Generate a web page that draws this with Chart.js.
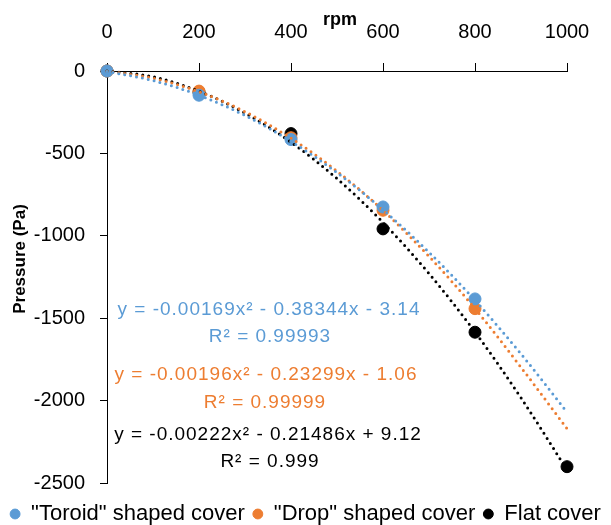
<!DOCTYPE html>
<html>
<head>
<meta charset="utf-8">
<script src="https://cdn.jsdelivr.net/npm/chart.js@4.4.0/dist/chart.umd.min.js"></script>
<style>
  body { margin: 0; background: #fff; }
  canvas { display: block; }
</style>
</head>
<body>
<canvas id="myChart" width="611" height="525"></canvas>
<script>
// measured points
const rpm = [0, 200, 400, 600, 800];
const rpmFlat = [0, 200, 400, 600, 800, 1000];
const toroid = [0, -147, -416, -825, -1383];
const drop = [0, -122, -405, -845, -1442];
const flat = [0, -128, -380, -958, -1585, -2401];

// trend lines every 100 rpm
const trendRpm = [0, 100, 200, 300, 400, 500, 600, 700, 800, 900, 1000];
const toroidTrend = [-3, -58, -147, -270, -427, -617, -842, -1100, -1391, -1717, -2070];
const dropTrend = [-1, -44, -126, -247, -408, -608, -846, -1125, -1442, -1798, -2170];
const flatTrend = [0, -35, -123, -255, -432, -653, -919, -1229, -1584, -1983, -2420];

const xTicks = [0, 200, 400, 600, 800, 1000];
const yTicks = [0, -500, -1000, -1500, -2000, -2500];

const equations = [
    ['y = -0.00169x² - 0.38344x - 3.14', 'R² = 0.99993', '#5b9bd5'],
    ['y = -0.00196x² - 0.23299x - 1.06', 'R² = 0.99999', '#ed7d31'],
    ['y = -0.00222x² - 0.21486x + 9.12', 'R² = 0.999', '#000000']
];

const font = 'Liberation Sans';
const blue = '#5b9bd5', orange = '#ed7d31', black = '#000000';

function pts(xs, ys) {
    return xs.map((x, i) => ({ x: x, y: ys[i] }));
}
function trend(ys, color) {
    return {
        type: 'line',
        label: 'trend',
        data: pts(trendRpm, ys),
        borderColor: color,
        borderWidth: 3,
        borderDash: [0, 6],
        borderCapStyle: 'round',
        pointRadius: 0,
        cubicInterpolationMode: 'monotone',
        fill: false,
        clip: false
    };
}
function marks(label, xs, ys, color) {
    return {
        type: 'scatter',
        label: label,
        data: pts(xs, ys),
        backgroundColor: color,
        borderColor: color,
        pointRadius: 6,
        pointHoverRadius: 6,
        clip: false
    };
}

// equation labels, axis titles
const textPlugin = {
    id: 'texts',
    afterDraw(chart) {
        const ctx = chart.ctx;
        ctx.save();
        ctx.textAlign = 'center';
        ctx.textBaseline = 'middle';
        ctx.font = '19px "' + font + '"';
        ctx.letterSpacing = '1px';
        const rows = [[269, 310, 270, 337], [266, 375, 265, 403], [268, 435, 270, 462]];
        equations.forEach((e, i) => {
            ctx.fillStyle = e[2];
            ctx.fillText(e[0], rows[i][0], rows[i][1]);
            ctx.fillText(e[1], rows[i][2], rows[i][3]);
        });
        ctx.letterSpacing = '0px';
        ctx.fillStyle = '#000';
        ctx.font = 'bold 18px "' + font + '"';
        ctx.fillText('rpm', 340, 20);
        ctx.translate(20, 259);
        ctx.rotate(-Math.PI / 2);
        ctx.font = 'bold 17px "' + font + '"';
        ctx.fillText('Pressure (Pa)', 0, 0);
        ctx.restore();
    }
};

new Chart(document.getElementById('myChart'), {
    type: 'scatter',
    data: {
        datasets: [
            trend(toroidTrend, blue),
            trend(dropTrend, orange),
            trend(flatTrend, black),
            marks('"Toroid" shaped cover', rpm, toroid, blue),
            marks('"Drop" shaped cover', rpm, drop, orange),
            marks('Flat cover', rpmFlat, flat, black)
        ]
    },
    options: {
        responsive: false,
        animation: false,
        layout: { padding: { left: 0, right: 0, top: 0, bottom: -10 } },
        scales: {
            x: {
                type: 'linear',
                position: 'top',
                min: 0, max: 1000,
                afterBuildTicks: (s) => { s.ticks = xTicks.map(v => ({ value: v })); },
                afterFit: (s) => { s.height = 71; },
                ticks: { color: '#000', font: { family: font, size: 20 }, padding: 19, maxRotation: 0,
                         callback: (v) => String(v) },
                grid: { drawOnChartArea: false, tickLength: 8, color: '#000' },
                border: { color: '#000', width: 1 }
            },
            y: {
                min: -2500, max: 0,
                afterBuildTicks: (s) => { s.ticks = yTicks.map(v => ({ value: v })); },
                afterFit: (s) => { s.width = 107; },
                ticks: { color: '#000', font: { family: font, size: 20 }, padding: 15,
                         callback: (v) => String(v) },
                grid: { drawOnChartArea: false, tickLength: 7, color: '#000' },
                border: { color: '#000', width: 1 }
            },
            yRight: {
                position: 'right',
                min: -2500, max: 0,
                afterFit: (s) => { s.width = 44; },
                ticks: { display: false },
                grid: { display: false },
                border: { display: false }
            }
        },
        plugins: {
            tooltip: { enabled: false },
            legend: {
                position: 'bottom',
                title: { display: true, text: ' ', font: { size: 10 }, padding: 0 },
                labels: {
                    filter: (item) => item.text !== 'trend',
                    usePointStyle: true,
                    pointStyle: 'circle',
                    boxWidth: 10,
                    boxHeight: 7,
                    color: '#000',
                    font: { family: font, size: 22 },
                    padding: 8
                }
            }
        }
    },
    plugins: [textPlugin]
});
</script>
</body>
</html>
